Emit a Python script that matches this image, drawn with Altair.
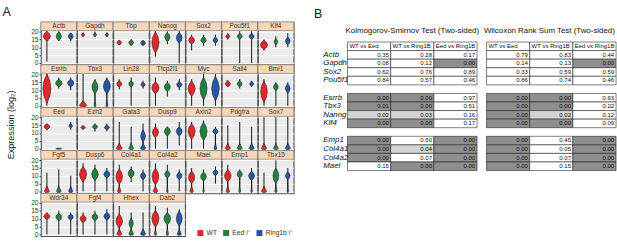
import altair as alt
import pandas as pd

FONT = "Liberation Sans"

# ---------------- Panel A data ----------------
genes = ["Actb", "Gapdh", "Tbp", "Nanog", "Sox2", "Pou5f1", "Klf4",
         "Esrrb", "Tbx3", "Lin28", "Tfcp2l1", "Myc", "Sall4", "Bmi1",
         "Eed", "Ezh2", "Gata3", "Dusp9", "Axin2", "Pdgfra", "Sox7",
         "Fgf5", "Dusp6", "Col4a1", "Col4a2", "Mael", "Emp1", "Tbx15",
         "Wdr34", "Fgf4", "Hhex", "Dab2"]

groups = ["WT", "Eed\u207b/\u207b", "Ring1b\u207b/\u207b"]
group_colors = ["#e4262a", "#1f8040", "#2456a8"]
y_title = ["Expression (log\u2082)"]
panel_letters = ["A", "B"]

# per violin: (line low, line high, body centre, body half-height, body half-width, bulb-at-zero half-width)
wt = [(1, 20.3, 17, 3.2, .30, 0), (16.5, 19.5, 18, 1.2, .13, 0), (11.5, 14.5, 13, 1.5, .20, 0),
      (4, 20.3, 13, 7, .30, 0), (8, 18, 14.5, 2.5, .25, 0), (15, 19, 17, 1.5, .16, 0),
      (8, 15, 11.5, 3, .30, 0),
      (0, 20.5, 11, 9.5, .34, 0), (0, 20.5, 0, 0, 0, .32), (10.5, 17, 14, 2, .22, 0),
      (0, 18, 11.5, 4, .30, 0), (0, 17, 11, 5, .30, 0), (12, 16.5, 14, 1.8, .22, 0),
      (0, 17, 9, 7, .28, 0),
      (12, 16, 14, 1.8, .25, 0), (12, 15, 13.5, 1, .20, 0), (0, 17, 0, 0, 0, .25),
      (0, 16, 10.5, 3.5, .26, 0), (0, 17, 11, 5, .30, 0), (0, 15, 0, 0, 0, .22),
      (0, 20, 0, 0, 0, .22),
      (0, 12, 0, 0, 0, .22), (0, 18, 11, 5, .30, 0), (0, 17, 9.5, 5, .28, .15),
      (0, 18, 9.5, 5.5, .28, .20), (0, 15, 9, 4, .27, .15), (0, 17, 10, 4, .28, .15),
      (0, 12, 0, 0, 0, .22),
      (0, 14, 11.5, 2, .25, 0), (0, 14, 10, 2.5, .26, 0), (0, 18, 8.5, 4.5, .28, .22),
      (0, 18, 10, 5.5, .30, .10)]

eed = [(14, 20.3, 17, 2.8, .22, 0), (16.5, 20, 18, 1.3, .13, 0), (11, 15, 13, 1.8, .20, 0),
       (12, 20.3, 16.5, 3, .22, 0), (11, 18, 14.5, 2.3, .22, 0), (0, 20.3, 17, 2, .20, 0),
       (10, 17, 13.5, 2, .15, 0),
       (11, 18, 14.5, 2.5, .27, 0), (0, 17, 12, 4.5, .25, .08), (0, 18, 14, 2, .20, 0),
       (6, 16, 12, 3, .25, 0), (0, 20.3, 11, 7.5, .30, 0), (11, 17, 14, 2, .20, 0),
       (0, 15, 12, 2.5, .20, 0),
       (0, 0, 0, .4, .25, 0), (11, 16, 14, 1.5, .22, 0), (0, 14, 0, 0, 0, .20),
       (0, 14, 11, 3, .25, 0), (0, 18, 11, 6, .30, 0), (0, 17, 0, 0, 0, .22),
       (0, 20, 0, 0, 0, .20),
       (0, 14, 0, 0, 0, .20), (0, 17, 11, 4, .28, 0), (6, 16, 11.5, 3, .25, 0),
       (0, 17, 11, 2.5, .22, .06), (0, 14, 9.5, 3, .24, .06), (0, 14, 11, 2.5, .22, .08),
       (0, 20, 10, 5, .25, .10),
       (0, 15, 11, 2.5, .25, 0), (0, 15, 11, 2.5, .25, 0), (0, 14, 7, 3.5, .18, .20),
       (0, 17, 10, 4, .28, .10)]

ring = [(14, 19, 17, 2.3, .20, 0), (16.5, 19.5, 18, 1.2, .13, 0), (11, 14.5, 12.8, 1.6, .20, 0),
        (0, 20.3, 16, 3.5, .25, 0), (11, 18, 14.5, 2, .20, 0), (0, 20.3, 17, 2, .20, 0),
        (10, 19, 14, 2.5, .20, 0),
        (10, 18, 14.5, 2.5, .27, 0), (0, 18, 12.5, 5, .30, .08), (11, 16, 13.5, 1.5, .18, 0),
        (10, 17, 13.5, 2, .22, 0), (0, 20.3, 11, 8, .32, 0), (12, 16, 14, 1.5, .18, 0),
        (0, 15, 11, 3, .20, 0),
        (12, 17, 14.5, 1.5, .15, 0), (11, 16, 13.5, 1.5, .22, 0), (0, 16, 8, 4, .20, .22),
        (2, 17, 11, 3, .25, 0), (0, 14, 11, 2, .22, .12), (0, 14, 0, 0, 0, .22),
        (0, 20.5, 0, 0, 0, .22),
        (0, 10, 0, 0, 0, .18), (0, 15, 11, 2.5, .25, 0), (0, 14, 10, 2.5, .22, 0),
        (0, 14, 10, 2.5, .22, 0), (5, 16, 12, 2, .20, 0), (0, 15, 10, 3, .25, .06),
        (0, 15, 10, 2.5, .20, .06),
        (0, 14, 11, 2, .22, 0), (0, 16, 11.5, 2.5, .25, 0), (0, 14, 0, 0, 0, .22),
        (0, 16, 10, 5, .25, .18)]

# ---------------- Panel B data ----------------
table_titles = ["Kolmogorov-Smirnov Test (Two-sided)", "Wilcoxon Rank Sum Test (Two-sided)"]
table_genes = ["Actb", "Gapdh", "Sox2", "Pou5f1", "Esrrb", "Tbx3", "Nanog", "Klf4",
               "Emp1", "Col4a1", "Col4a2", "Mael"]
row_order = ["hdr", "Actb", "Gapdh", "Sox2", "Pou5f1", "gap1", "Esrrb", "Tbx3", "Nanog", "Klf4",
             "gap2", "Emp1", "Col4a1", "Col4a2", "Mael"]
comparisons = ["WT vs Eed", "WT vs Ring1B", "Eed vs Ring1B"]

ks_wt_eed = [0.35, 0.08, 0.62, 0.84, 0.00, 0.01, 0.02, 0.00, 0.00, 0.00, 0.00, 0.15]
ks_wt_ring = [0.28, 0.12, 0.76, 0.57, 0.00, 0.00, 0.03, 0.00, 0.50, 0.04, 0.07, 0.00]
ks_eed_ring = [0.17, 0.00, 0.89, 0.46, 0.97, 0.51, 0.16, 0.17, 0.00, 0.00, 0.00, 0.00]

wx_wt_eed = [0.79, 0.14, 0.33, 0.86, 0.00, 0.00, 0.00, 0.00, 0.00, 0.00, 0.00, 0.00]
wx_wt_ring = [0.83, 0.13, 0.59, 0.74, 0.00, 0.00, 0.02, 0.00, 0.45, 0.05, 0.07, 0.15]
wx_eed_ring = [0.44, 0.00, 0.59, 0.46, 0.63, 0.22, 0.12, 0.09, 0.00, 0.00, 0.00, 0.00]

# ---------------- build violin table ----------------
rows = []
for gi, params in enumerate([wt, eed, ring]):
    centre = gi + 1
    for gene, (lo, hi, mid, half, width, bulb) in zip(genes, params):
        pts = []
        if bulb > 0:
            pts += [(-0.6, 0.55 * bulb), (0.2, bulb), (1.5, 0.6 * bulb), (3.5, 0.0)]
        if width > 0:
            pts += [(mid - half, 0.0), (mid - half / 2, 0.75 * width), (mid, width),
                    (mid + half / 2, 0.75 * width), (mid + half, 0.0)]
        for k, (yv, hw) in enumerate(pts):
            rows.append(dict(kind="area", gene=gene, grp=groups[gi], y=yv,
                             xl=centre - hw, xr=centre + hw, idx=k))
        if hi > lo:
            rows.append(dict(kind="rule", gene=gene, grp=groups[gi], xc=centre, lo=lo, hi=hi))
for gene in genes:
    rows.append(dict(kind="strip", gene=gene))
vdf = pd.DataFrame(rows)

PW = 37.5   # panel width
PH = 45     # panel height incl. strip
TOP = 15    # spacer row above the grid
YDOM = [-1.2, 26.1]

xsc = alt.Scale(domain=[0.5, 3.5], nice=False, zero=False)
ysc = alt.Scale(domain=YDOM, nice=False, zero=False)
fill_enc = alt.Fill("grp:N", scale=alt.Scale(domain=groups, range=group_colors),
                    legend=alt.Legend(title=None, orient="none", direction="horizontal",
                                      legendX=201, legendY=233, symbolType="square",
                                      symbolSize=40, symbolStrokeWidth=0, labelFontSize=7,
                                      labelFont=FONT, columnPadding=6, labelColor="#333",
                                      labelOffset=3))

clear = alt.ViewBackground(stroke="transparent", fill="transparent")


def panel(gene, first):
    if first:
        ax = alt.Axis(values=[0, 5, 10, 15, 20], labelFontSize=7, labelColor="#333",
                      tickSize=2, tickColor="#333", domain=False, gridColor="white",
                      gridWidth=0.8, title=None, labelPadding=1)
    else:
        ax = alt.Axis(values=[0, 5, 10, 15, 20], labels=False, ticks=False, domain=False,
                      gridColor="white", gridWidth=0.8, title=None, minExtent=0, maxExtent=0)
    b = alt.Chart()
    rules = b.transform_filter(alt.datum.kind == "rule").mark_rule(
        color="#222", strokeWidth=1.1).encode(
        x=alt.X("xc:Q", scale=xsc, axis=None),
        y=alt.Y("lo:Q", scale=ysc, axis=ax), y2="hi:Q")
    areas = b.transform_filter(alt.datum.kind == "area").mark_area(
        orient="horizontal", stroke="#111", strokeWidth=0.5).encode(
        y=alt.Y("y:Q", scale=ysc, axis=ax),
        x=alt.X("xl:Q", scale=xsc, axis=None), x2="xr:Q",
        fill=fill_enc, detail="grp:N")
    strip = b.transform_filter(alt.datum.kind == "strip").mark_rect(
        fill="#f8d7b9", stroke="#8a8a8a", strokeWidth=0.8).encode(
        x=alt.value(0), x2=alt.value(PW), y=alt.value(0), y2=alt.value(9))
    stext = b.transform_filter(alt.datum.kind == "strip").mark_text(
        fontSize=6.8, font=FONT, color="#333", baseline="middle").encode(
        text="gene:N", x=alt.value(PW / 2), y=alt.value(4.7))
    return alt.layer(rules, areas, strip, stext, data=vdf).transform_filter(
        alt.datum.gene == gene).properties(
        width=PW, height=PH,
        view=alt.ViewBackground(fill="#ebebeb", stroke="#555", strokeWidth=1.2))


def spacer():
    return alt.Chart(pd.DataFrame({"t": [""]})).mark_text(fontSize=1).encode(
        text="t:N", x=alt.value(0), y=alt.value(0)).properties(width=PW, height=TOP, view=clear)


grid = alt.concat(*[spacer() for _ in range(7)],
                  *[panel(g, i % 7 == 0) for i, g in enumerate(genes)],
                  columns=7, spacing=0, bounds="flush")

side_df = pd.DataFrame({
    "t": [panel_letters[0], y_title[0]],
    "px": [1, 6],
    "py": [5, TOP + 108],
    "fs": [13, 9.5],
    "ang": [0, 270],
})
side = alt.Chart(side_df).mark_text(font=FONT, color="#222", baseline="middle").encode(
    text="t:N",
    x=alt.X("px:Q", scale=alt.Scale(domain=[0, 12], nice=False, zero=False), axis=None),
    y=alt.Y("py:Q", scale=alt.Scale(domain=[0, TOP + 5 * PH], reverse=True, nice=False,
                                    zero=False), axis=None),
    size=alt.Size("fs:Q", scale=None, legend=None),
    angle=alt.Angle("ang:Q", scale=None),
).properties(width=12, height=TOP + 5 * PH, view=clear)

left = alt.hconcat(side, grid, spacing=12)


# ---------------- tables ----------------
def shade(p):
    if p <= 0.01:
        return "#8e8e8e"
    if p < 0.05:
        return "#d3d3d3"
    return "white"


def table_df(cols):
    recs = []
    for c in comparisons:
        recs.append(dict(row="hdr", col=c, fillc="white", label="", head=c))
    for c, vals in zip(comparisons, cols):
        for g, v in zip(table_genes, vals):
            recs.append(dict(row=g, col=c, fillc=shade(v), label=f"{v:.2f}", head=""))
    return pd.DataFrame(recs)


TW = 136


def table(df, show_rows):
    xs = alt.Scale(domain=comparisons, paddingInner=0, paddingOuter=0)
    ys = alt.Scale(domain=row_order, paddingInner=0, paddingOuter=0)
    if show_rows:
        yax = alt.Axis(title=None, ticks=False, domain=False, labelFontStyle="italic",
                       labelFontSize=8.3, labelAlign="left", labelPadding=26,
                       labelColor="#111", labelFont=FONT,
                       labelExpr="indexof(['hdr','gap1','gap2'], datum.value) >= 0 ? '' : datum.value")
        ych = alt.Y("row:N", scale=ys, axis=yax)
    else:
        ych = alt.Y("row:N", scale=ys, axis=None)
    cb = alt.Chart(df)
    rect = cb.mark_rect(stroke="#222", strokeWidth=0.6).encode(
        x=alt.X("col:N", scale=xs, axis=None), y=ych,
        fill=alt.Fill("fillc:N", scale=None))
    vals = cb.mark_text(align="right", dx=-2, fontSize=6.3, font=FONT, color="#111").encode(
        x=alt.X("col:N", scale=xs, axis=None, bandPosition=1), y=ych, text="label:N")
    heads = cb.mark_text(align="left", dx=2, fontSize=6.3, font=FONT, color="#111").encode(
        x=alt.X("col:N", scale=xs, axis=None, bandPosition=0), y=ych, text="head:N")
    return alt.layer(rect, vals, heads).properties(width=TW, height=135, view=clear)


t1 = table(table_df([ks_wt_eed, ks_wt_ring, ks_eed_ring]), True)
t2 = table(table_df([wx_wt_eed, wx_wt_ring, wx_eed_ring]), False)

HW = 2 * TW + 8
HH = 33
hdr_df = pd.DataFrame({
    "t": [panel_letters[1], table_titles[0], table_titles[1]],
    "px": [-31, TW / 2, TW + 8 + TW / 2],
    "py": [7, 25, 25],
    "fs": [13, 8.3, 8.3],
})
hdrB = alt.Chart(hdr_df).mark_text(font=FONT, color="#111", baseline="middle").encode(
    text="t:N",
    x=alt.X("px:Q", scale=alt.Scale(domain=[0, HW], nice=False, zero=False), axis=None),
    y=alt.Y("py:Q", scale=alt.Scale(domain=[0, HH], reverse=True, nice=False, zero=False), axis=None),
    size=alt.Size("fs:Q", scale=None, legend=None),
).properties(width=HW, height=HH, view=clear)

right = alt.vconcat(hdrB, alt.hconcat(t1, t2, spacing=8), spacing=0)

chart = alt.hconcat(left, right, spacing=19).properties(
    padding={"left": 2, "top": 0, "right": 0, "bottom": 0}
).resolve_scale(fill="independent").configure(font=FONT).configure_view(stroke="transparent")

chart.save("out.html", embed_options={"renderer": "svg", "actions": False})
